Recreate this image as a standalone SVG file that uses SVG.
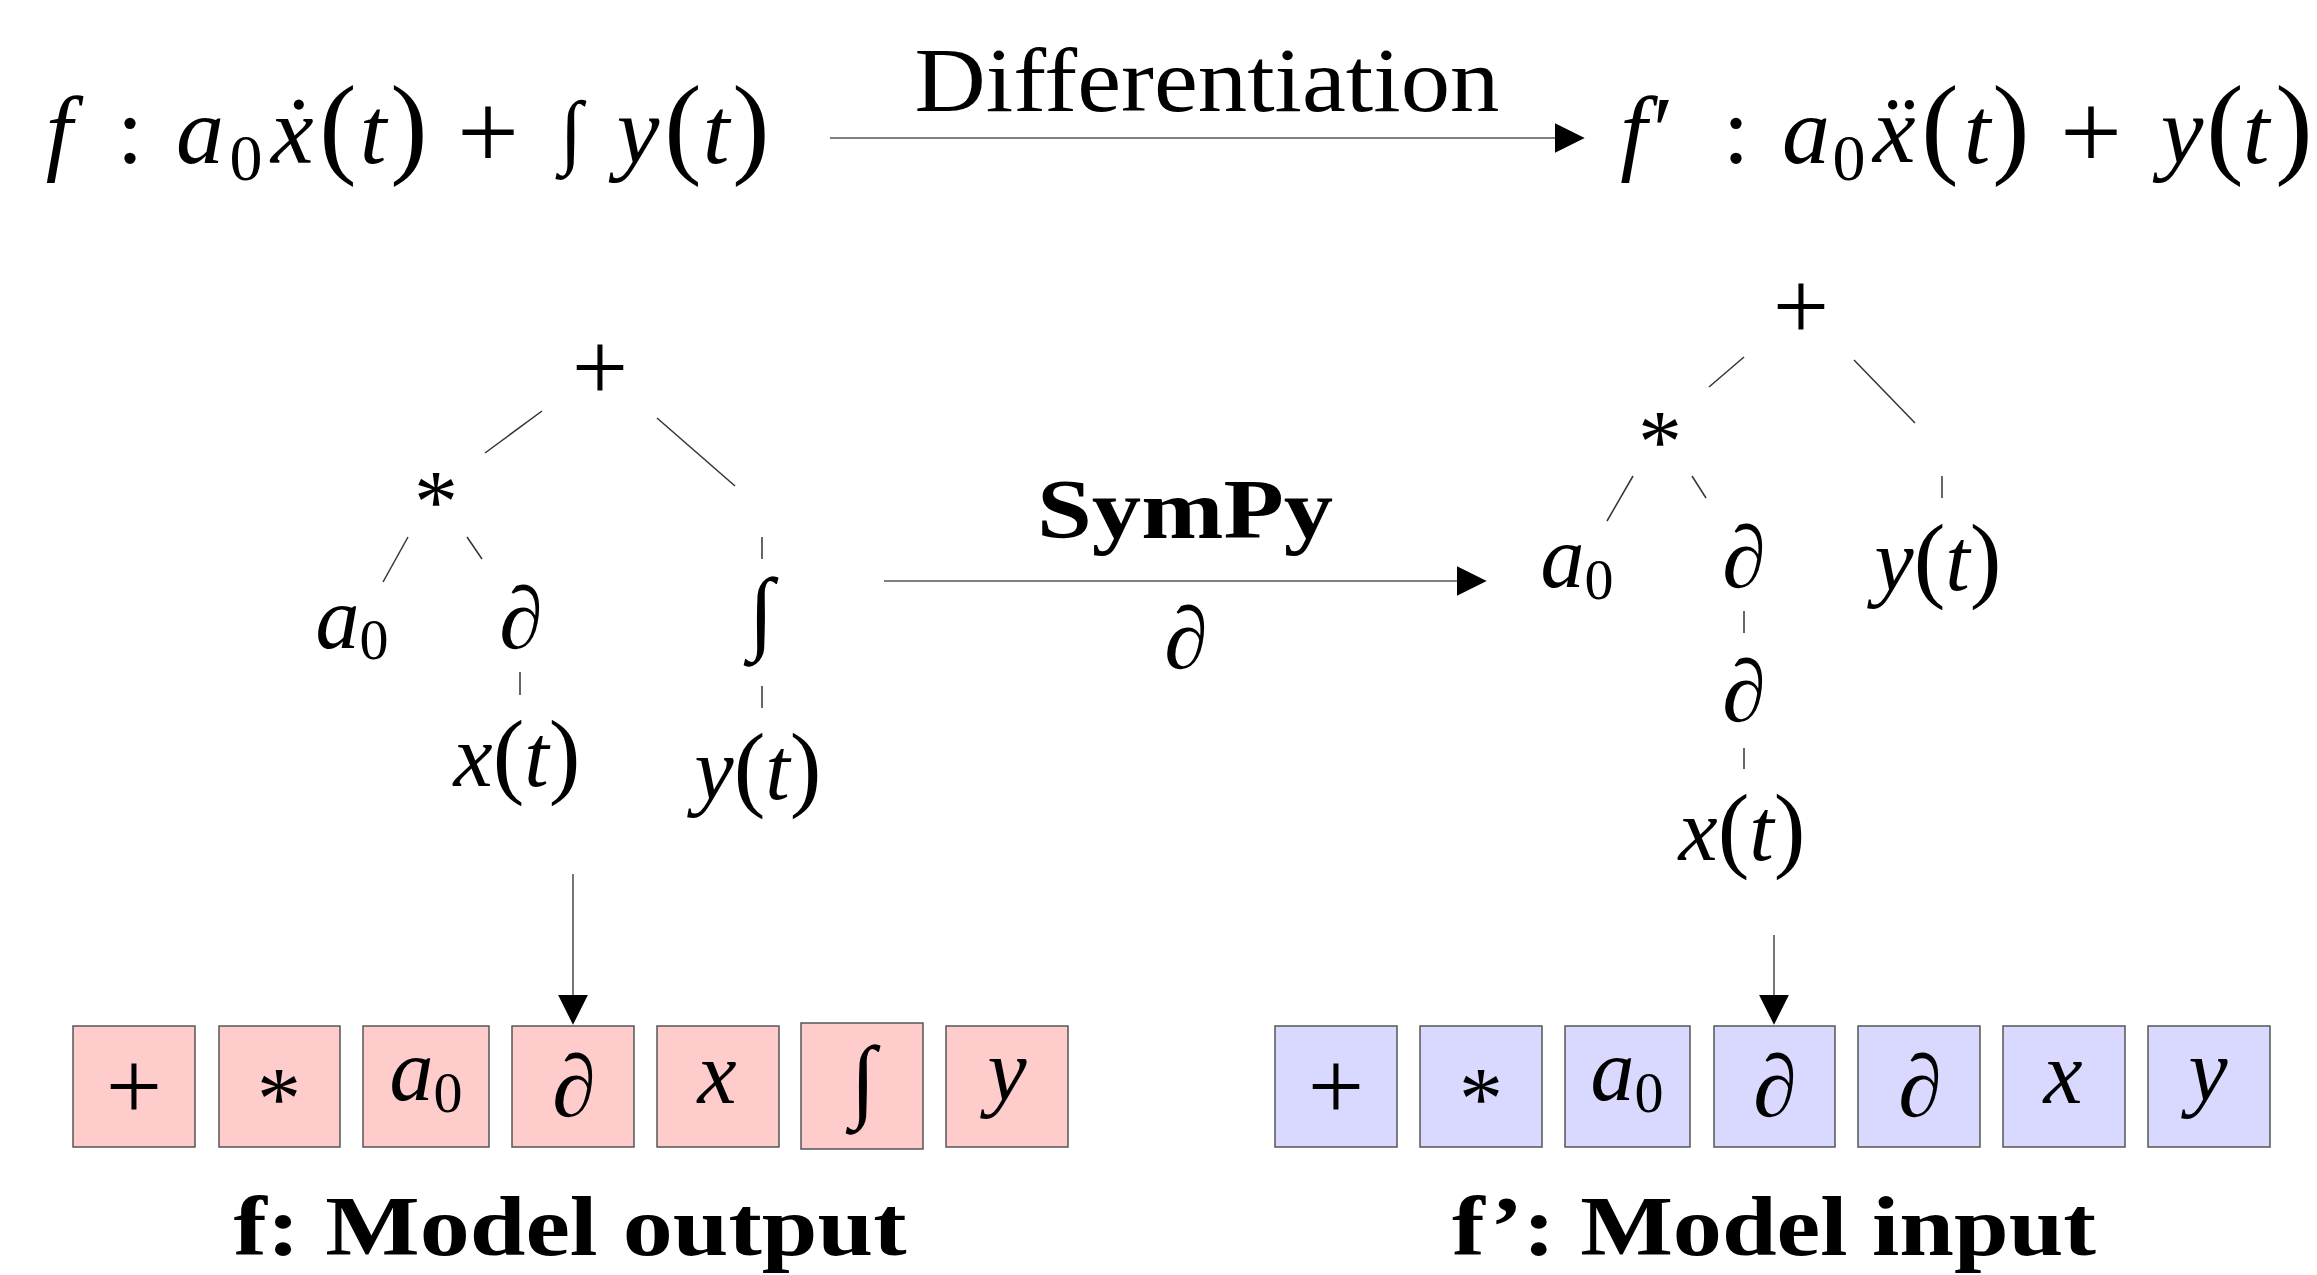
<svg xmlns="http://www.w3.org/2000/svg" width="2317" height="1275" viewBox="0 0 2317 1275">
<style>
  .m { font-family: "Liberation Serif", "DejaVu Serif", serif; fill: #000; text-anchor: middle; }
  .i { font-style: italic; }
  .u { font-style: normal; }
  .eq { font-size: 96px; }
  .par { font-size: 112px; font-style: normal; }
  .sub { font-size: 66px; font-style: normal; }
  .nd { font-size: 88px; }
  .np { font-size: 95px; font-style: normal; }
  .ns { font-size: 58px; font-style: normal; }
  .op { font-size: 100px; font-style: normal; }
  .bx { font-size: 88px; }
  .lbl { font-size: 84px; font-weight: bold; }
  .tl { stroke: #333; stroke-width: 1.5; fill: none; }
  .ar { stroke: #555; stroke-width: 1.6; fill: none; marker-end: url(#ah); }
  .pink { fill: #FFCCCC; stroke: #555; stroke-width: 1.5; }
  .blue { fill: #D9D9FF; stroke: #555; stroke-width: 1.5; }
</style>
<defs>
  <marker id="ah" markerUnits="userSpaceOnUse" markerWidth="30" markerHeight="30" viewBox="0 0 29 29" refX="9" refY="14.5" orient="auto">
    <path d="M0,0 L29,14.5 L0,29 Z" fill="#000"/>
  </marker>
</defs>
<rect width="2317" height="1275" fill="#fff"/>

<!-- Top equations -->
<g id="eq-f">
  <text class="m i eq" x="59" y="163">f</text>
  <text class="m u eq" x="130" y="163">:</text>
  <text class="m i eq" x="200" y="163">a</text>
  <text class="m sub" x="246" y="180">0</text>
  <text class="m i eq" x="292" y="163">ẋ</text>
  <text class="m par" x="338" y="163">(</text>
  <text class="m i eq" x="373" y="163">t</text>
  <text class="m par" x="409" y="163">)</text>
  <text class="m u" font-size="110" x="488" y="169">+</text>
  <text class="m u" font-size="82" x="571" y="158">∫</text>
  <text class="m i eq" x="638" y="163">y</text>
  <text class="m par" x="683" y="163">(</text>
  <text class="m i eq" x="716" y="163">t</text>
  <text class="m par" x="751" y="163">)</text>
</g>

<g id="label-differentiation">
  <text class="m" font-size="92" x="1207" y="111" textLength="585" lengthAdjust="spacingAndGlyphs">Differentiation</text>
</g>

<g id="eq-fprime">
  <text class="m i eq" x="1644" y="163">f′</text>
  <text class="m u eq" x="1736" y="163">:</text>
  <text class="m i eq" x="1806" y="163">a</text>
  <text class="m sub" x="1849" y="180">0</text>
  <text class="m i eq" x="1894" y="163">ẍ</text>
  <text class="m par" x="1940" y="163">(</text>
  <text class="m i eq" x="1977" y="163">t</text>
  <text class="m par" x="2011" y="163">)</text>
  <text class="m u" font-size="110" x="2091" y="169">+</text>
  <text class="m i eq" x="2182" y="163">y</text>
  <text class="m par" x="2225" y="163">(</text>
  <text class="m i eq" x="2256" y="163">t</text>
  <text class="m par" x="2294" y="163">)</text>
</g>

<!-- Left tree -->
<g id="lt-plus"><text class="m op" x="600" y="401">+</text></g>
<g id="lt-mul"><text class="m nd u" x="436" y="531">*</text></g>
<g id="lt-a0"><text class="m nd" x="352" y="648"><tspan class="i">a</tspan><tspan class="ns" dy="11">0</tspan></text></g>
<g id="lt-d"><text class="m nd i" x="521" y="648">∂</text></g>
<g id="lt-int"><text class="m u" font-size="92" x="761" y="642">∫</text></g>
<g id="lt-x"><text class="m nd" x="517" y="786"><tspan class="i">x</tspan><tspan class="np">(</tspan><tspan class="i">t</tspan><tspan class="np">)</tspan></text></g>
<g id="lt-y"><text class="m nd" x="758" y="799"><tspan class="i">y</tspan><tspan class="np">(</tspan><tspan class="i">t</tspan><tspan class="np">)</tspan></text></g>

<!-- Middle label -->
<g id="mid-label">
  <text class="m" font-size="84" font-weight="bold" x="1185" y="538" textLength="296" lengthAdjust="spacingAndGlyphs">SymPy</text>
  <text class="m nd i" x="1186" y="668">∂</text>
</g>

<!-- Right tree -->
<g id="rt-plus"><text class="m op" x="1801" y="340">+</text></g>
<g id="rt-mul"><text class="m nd u" x="1660" y="471">*</text></g>
<g id="rt-a0"><text class="m nd" x="1577" y="587"><tspan class="i">a</tspan><tspan class="ns" dy="12">0</tspan></text></g>
<g id="rt-d1"><text class="m nd i" x="1744" y="587">∂</text></g>
<g id="rt-y"><text class="m nd" x="1938" y="590"><tspan class="i">y</tspan><tspan class="np">(</tspan><tspan class="i">t</tspan><tspan class="np">)</tspan></text></g>
<g id="rt-d2"><text class="m nd i" x="1744" y="721">∂</text></g>
<g id="rt-x"><text class="m nd" x="1742" y="860"><tspan class="i">x</tspan><tspan class="np">(</tspan><tspan class="i">t</tspan><tspan class="np">)</tspan></text></g>

<!-- Output sequence (pink) -->
<g id="out-0"><rect class="pink" x="73" y="1026" width="122" height="121"/><text class="m op" x="134" y="1120">+</text></g>
<g id="out-1"><rect class="pink" x="219" y="1026" width="121" height="121"/><text class="m bx u" x="279" y="1128">*</text></g>
<g id="out-2"><rect class="pink" x="363" y="1026" width="126" height="121"/><text class="m bx" x="426" y="1100"><tspan class="i">a</tspan><tspan class="ns" dy="12">0</tspan></text></g>
<g id="out-3"><rect class="pink" x="512" y="1026" width="122" height="121"/><text class="m bx i" x="574" y="1116">∂</text></g>
<g id="out-4"><rect class="pink" x="657" y="1026" width="122" height="121"/><text class="m bx i" x="717" y="1103">x</text></g>
<g id="out-5"><rect class="pink" x="801" y="1023" width="122" height="126"/><text class="m u" font-size="92" x="863" y="1110">∫</text></g>
<g id="out-6"><rect class="pink" x="946" y="1026" width="122" height="121"/><text class="m bx i" x="1007" y="1100">y</text></g>

<!-- Input sequence (blue) -->
<g id="in-0"><rect class="blue" x="1275" y="1026" width="122" height="121"/><text class="m op" x="1336" y="1120">+</text></g>
<g id="in-1"><rect class="blue" x="1420" y="1026" width="122" height="121"/><text class="m bx u" x="1481" y="1128">*</text></g>
<g id="in-2"><rect class="blue" x="1565" y="1026" width="125" height="121"/><text class="m bx" x="1627" y="1100"><tspan class="i">a</tspan><tspan class="ns" dy="12">0</tspan></text></g>
<g id="in-3"><rect class="blue" x="1714" y="1026" width="121" height="121"/><text class="m bx i" x="1775" y="1116">∂</text></g>
<g id="in-4"><rect class="blue" x="1858" y="1026" width="122" height="121"/><text class="m bx i" x="1920" y="1116">∂</text></g>
<g id="in-5"><rect class="blue" x="2003" y="1026" width="122" height="121"/><text class="m bx i" x="2063" y="1103">x</text></g>
<g id="in-6"><rect class="blue" x="2148" y="1026" width="122" height="121"/><text class="m bx i" x="2208" y="1100">y</text></g>

<!-- Captions -->
<g id="cap-out"><text class="m lbl" x="570" y="1255" textLength="673" lengthAdjust="spacingAndGlyphs">f: Model output</text></g>
<g id="cap-in"><text class="m lbl" x="1774" y="1255" textLength="644" lengthAdjust="spacingAndGlyphs">f’: Model input</text></g>

<!-- Connectors -->
<g id="connectors">
  <line class="tl" x1="542" y1="411" x2="485" y2="453"/>
  <line class="tl" x1="657" y1="418" x2="735" y2="486"/>
  <line class="tl" x1="408" y1="537" x2="383" y2="582"/>
  <line class="tl" x1="467" y1="537" x2="482" y2="559"/>
  <line class="tl" x1="520" y1="672" x2="520" y2="695"/>
  <line class="tl" x1="762" y1="537" x2="762" y2="559"/>
  <line class="tl" x1="762" y1="686" x2="762" y2="708"/>

  <line class="tl" x1="1744" y1="357" x2="1709" y2="387"/>
  <line class="tl" x1="1854" y1="360" x2="1915" y2="423"/>
  <line class="tl" x1="1633" y1="476" x2="1607" y2="521"/>
  <line class="tl" x1="1692" y1="476" x2="1706" y2="498"/>
  <line class="tl" x1="1942" y1="476" x2="1942" y2="498"/>
  <line class="tl" x1="1744" y1="611" x2="1744" y2="633"/>
  <line class="tl" x1="1744" y1="748" x2="1744" y2="769"/>

  <line class="ar" x1="830" y1="138" x2="1564" y2="138"/>
  <line class="ar" stroke="#000" x1="884" y1="581" x2="1466" y2="581"/>
  <line class="ar" x1="573" y1="874" x2="573" y2="1004"/>
  <line class="ar" x1="1774" y1="935" x2="1774" y2="1004"/>
</g>
</svg>
